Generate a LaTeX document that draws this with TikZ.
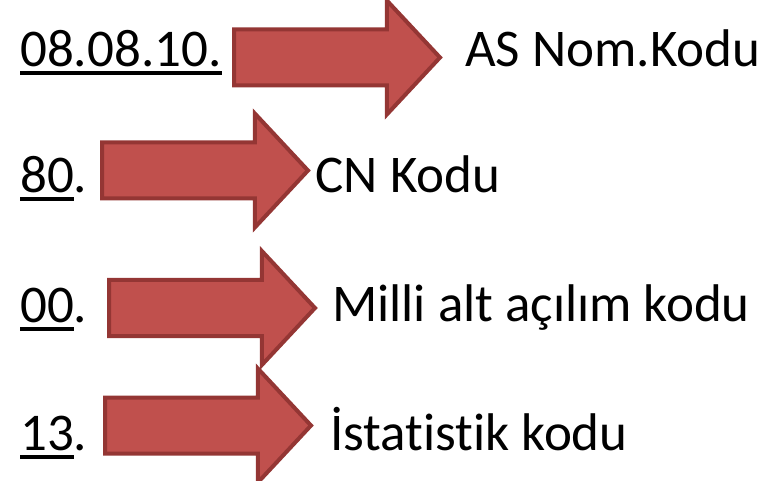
\documentclass[tikz,border=0pt]{standalone}
\usepackage{fontspec}
\setmainfont{Carlito}[Ligatures=NoCommon]
\usetikzlibrary{shapes.arrows}
\definecolor{arrowfill}{HTML}{C0504D}
\definecolor{arrowline}{HTML}{943634}
\newcommand\undl[1]{\setbox0\hbox{#1}\rlap{\rule[-8.5pt]{\wd0}{4pt}}\box0}

\begin{document}
\begin{tikzpicture}[x=1pt,y=-1pt,
    code/.style={anchor=base west,inner sep=0pt,font=\fontsize{53}{60}\selectfont},
    bigarrow/.style={single arrow,draw=arrowline,fill=arrowfill,line width=4pt,
      anchor=tail,outer sep=0pt,inner xsep=0pt,inner ysep=26pt,
      minimum height=206pt,minimum width=110pt,
      single arrow head extend=29pt,single arrow tip angle=94}]
    \useasboundingbox (0,0) rectangle (777,481);
    % codes
    \node[code] (C1) at (20,67)  {\undl{08.08.10.}};
    \node[code] (C2) at (20,193) {\undl{80}.};
    \node[code] (C3) at (20,323) {\undl{00}.};
    \node[code] (C4) at (20,450) {\undl{13}.};
    % arrows
    \node[bigarrow] (A1) at (234,57.5)  {};
    \node[bigarrow] (A2) at (102,170.5) {};
    \node[bigarrow] (A3) at (109,308)   {};
    \node[bigarrow] (A4) at (105,425.5) {};
    % labels
    \node[code] (L1) at (465,67)   {AS Nom.Kodu};
    \node[code] (L2) at (315.5,193) {CN Kodu};
    \node[code] (L3) at (332,322)  {Milli alt açılım kodu};
    \node[code] (L4) at (330,450)  {İstatistik kodu};
  \end{tikzpicture}
\end{document}
